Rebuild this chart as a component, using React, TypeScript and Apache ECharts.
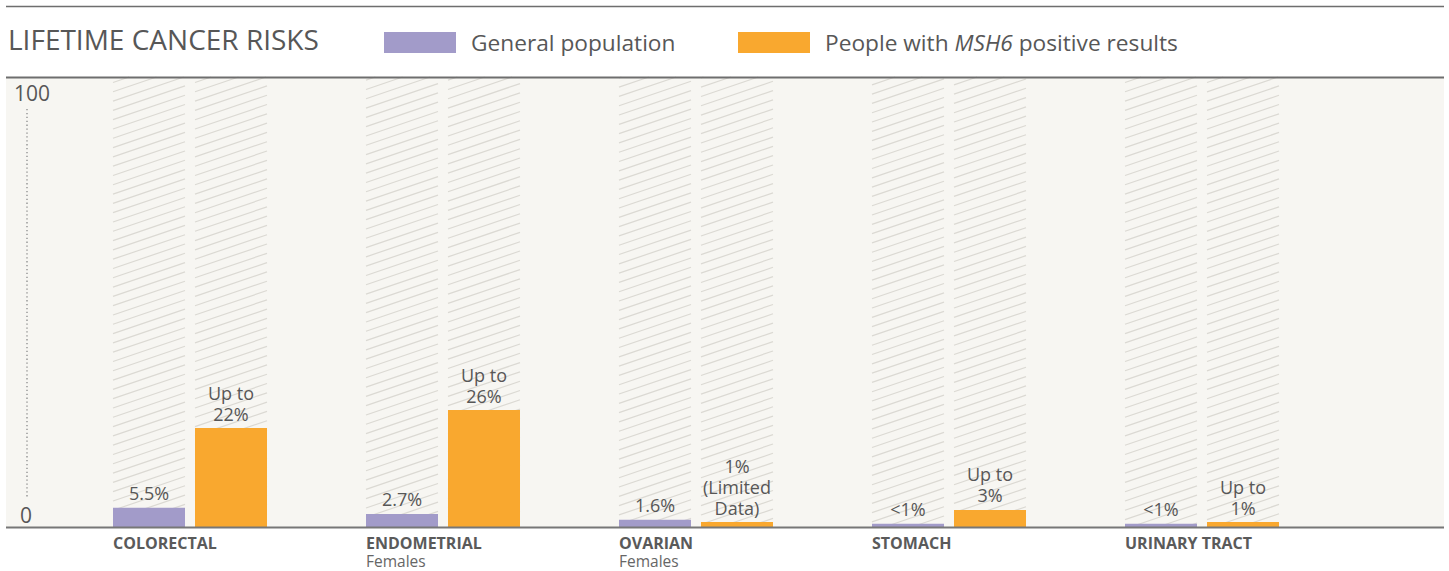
import React, { useEffect, useRef } from "react";
import * as echarts from "echarts";

const categories = ["COLORECTAL", "ENDOMETRIAL", "OVARIAN", "STOMACH", "URINARY TRACT"];
const subLabels = ["", "Females", "Females", "", ""];
const generalValues = [4.3, 2.9, 1.6, 0.7, 0.7];
const generalLabels = ["5.5%", "2.7%", "1.6%", "<1%", "<1%"];
const msh6Values = [22, 26, 1.1, 3.8, 1.1];
const msh6Labels = ["Up to\n22%", "Up to\n26%", "1%\n(Limited\nData)", "Up to\n3%", "Up to\n1%"];
const yMin = 0;
const yMax = 100;

const FONT = "'Open Sans', Lato, sans-serif";
const TEXT = "#575757";
const PURPLE = "#a29bc9";
const ORANGE = "#f9a82f";
const BAR_W = 72;
const GAP = 10;
const SLOPE = 0.34;
const SPACING = 9.3;

export default function App() {
  const ref = useRef<HTMLDivElement>(null);
  useEffect(() => {
    if (!ref.current) return;
    const chart = echarts.init(ref.current, null, { renderer: "svg" });

    const renderHatch = (params: any, api: any) => {
      const i = api.value(0);
      const top = api.coord([i, yMax]);
      const bot = api.coord([i, yMin]);
      const cx = top[0];
      const y0 = top[1];
      const y1 = bot[1];
      const children: any[] = [];
      const half = (BAR_W + GAP) / 2;
      for (const off of [-half, half]) {
        const x0 = cx + off - BAR_W / 2;
        const w = BAR_W;
        const mMin = Math.ceil((y0 + SLOPE * x0) / SPACING);
        const mMax = Math.floor((y1 + SLOPE * (x0 + w)) / SPACING);
        for (let m = mMin; m <= mMax; m++) {
          const c = m * SPACING;
          let xa = x0;
          let ya = c - SLOPE * x0;
          if (ya > y1) {
            xa = (c - y1) / SLOPE;
            ya = y1;
          }
          let xb = x0 + w;
          let yb = c - SLOPE * (x0 + w);
          if (yb < y0) {
            xb = (c - y0) / SLOPE;
            yb = y0;
          }
          if (xb > xa) {
            children.push({
              type: "line",
              shape: { x1: xa, y1: ya, x2: xb, y2: yb },
              style: { stroke: "#dbd9d3", lineWidth: 1.2 },
            });
          }
        }
      }
      return { type: "group", children };
    };

    const LEG = 22.7;
    const legendText = {
      fontSize: LEG,
      color: TEXT,
      fontFamily: FONT,
      padding: [0, 0, 0, 10],
      rich: {
        n: { fontSize: LEG, color: TEXT, fontFamily: FONT },
        i: { fontSize: LEG, color: TEXT, fontFamily: FONT, fontStyle: "italic" },
      },
    };

    const barLabel = (labels: string[]) => ({
      show: true,
      position: "top",
      distance: 4,
      formatter: (p: any) => labels[p.dataIndex],
      fontSize: 18,
      lineHeight: 21,
      color: TEXT,
      fontFamily: FONT,
    });

    chart.setOption({
      animation: false,
      backgroundColor: "#ffffff",
      title: {
        text: "LIFETIME CANCER RISKS",
        left: 3,
        top: 20,
        textStyle: { fontSize: 28, fontWeight: "normal", color: TEXT, fontFamily: FONT },
      },
      legend: [
        {
          left: 384,
          top: 31,
          padding: 0,
          itemWidth: 72,
          itemHeight: 21,
          icon: "rect",
          data: ["General population"],
          textStyle: legendText,
          selectedMode: false,
        },
        {
          left: 738,
          top: 31,
          padding: 0,
          itemWidth: 72,
          itemHeight: 21,
          icon: "rect",
          data: ["People with MSH6 positive results"],
          formatter: () => "{n|People with }{i|MSH6}{n| positive results}",
          textStyle: legendText,
          selectedMode: false,
        },
      ],
      grid: { left: 63.5, right: 120.5, top: 77, bottom: 44, containLabel: false },
      xAxis: {
        type: "category",
        data: categories,
        axisLine: { show: false },
        axisTick: { show: false },
        axisLabel: {
          interval: 0,
          margin: 6,
          formatter: (v: string, idx: number) =>
            subLabels[idx] ? `{a|${v}}\n{b|${subLabels[idx]}}` : `{a|${v}}`,
          rich: {
            a: { width: 154, align: "left", fontSize: 16, fontWeight: "bold", color: "#5a5a5a", fontFamily: FONT, lineHeight: 19 },
            b: { width: 154, align: "left", fontSize: 15.5, color: "#666", fontFamily: FONT, lineHeight: 17 },
          },
        },
      },
      yAxis: {
        type: "value",
        min: yMin,
        max: yMax,
        interval: 100,
        splitLine: { show: false },
        axisLine: { show: false },
        axisTick: { show: false },
        axisLabel: {
          align: "center",
          margin: 31.5,
          formatter: (v: number) => (v === yMax ? `{t|${v}}` : `{b|${v}}`),
          rich: {
            t: { fontSize: 21, color: TEXT, fontFamily: FONT, padding: [31, 0, 0, 0] },
            b: { fontSize: 21, color: TEXT, fontFamily: FONT, padding: [0, 12, 25, 0] },
          },
        },
      },
      graphic: [
        { type: "rect", z: -10, shape: { x: 6, y: 77, width: 1438, height: 450 }, style: { fill: "#f7f6f2" } },
        { type: "line", z: 50, shape: { x1: 6, y1: 6.5, x2: 1444, y2: 6.5 }, style: { stroke: "#6e6e6e", lineWidth: 1.5 } },
        { type: "line", z: 50, shape: { x1: 6, y1: 77.5, x2: 1444, y2: 77.5 }, style: { stroke: "#6e6e6e", lineWidth: 2 } },
        { type: "line", z: 50, shape: { x1: 6, y1: 527.5, x2: 1444, y2: 527.5 }, style: { stroke: "#777", lineWidth: 2 } },
        { type: "line", z: 50, shape: { x1: 27, y1: 109, x2: 27, y2: 497 }, style: { stroke: "#8a8a8a", lineWidth: 1.3, lineDash: [1.3, 2.6] } },
      ],
      series: [
        {
          type: "custom",
          name: "hatch",
          silent: true,
          z: 1,
          renderItem: renderHatch,
          encode: { x: 0, y: 1 },
          data: categories.map((_, i) => [i, yMax]),
        },
        {
          type: "bar",
          name: "General population",
          z: 3,
          barWidth: BAR_W,
          barGap: `${(GAP / BAR_W) * 100}%`,
          data: generalValues,
          itemStyle: { color: PURPLE },
          label: barLabel(generalLabels),
        },
        {
          type: "bar",
          name: "People with MSH6 positive results",
          z: 3,
          barWidth: BAR_W,
          data: msh6Values,
          itemStyle: { color: ORANGE },
          label: barLabel(msh6Labels),
        },
      ],
    });
    return () => chart.dispose();
  }, []);
  return <div ref={ref} style={{ position: "fixed", left: 0, top: 0, width: 1449, height: 571 }} />;
}
